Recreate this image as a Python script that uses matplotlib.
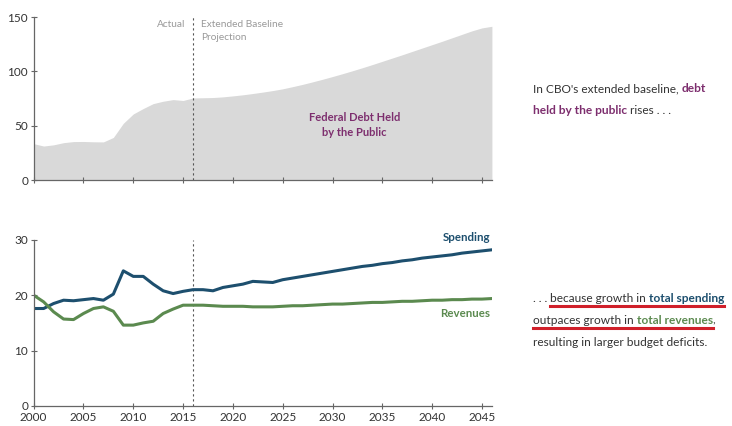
import matplotlib.pyplot as plt
from matplotlib.lines import Line2D

plt.rcParams['font.family'] = ['Lato', 'DejaVu Sans']

# 数据
years = list(range(2000, 2047))
debt = [33.6, 31.4, 32.5, 34.5, 35.5, 35.6, 35.3, 35.2, 39.3, 52.3,
        60.9, 65.9, 70.4, 72.6, 74.1, 73.3, 75.6, 75.8, 76.0, 76.6,
        77.5, 78.5, 79.7, 81.0, 82.4, 84.0, 86.0, 88.1, 90.4, 92.8,
        95.3, 97.9, 100.6, 103.4, 106.3, 109.3, 112.3, 115.3, 118.4, 121.5,
        124.6, 127.7, 130.9, 134.1, 137.3, 140.0, 141.5]
spending = [17.6, 17.6, 18.5, 19.1, 19.0, 19.2, 19.4, 19.1, 20.2, 24.4,
            23.4, 23.4, 22.0, 20.8, 20.3, 20.7, 21.0, 21.0, 20.8, 21.4,
            21.7, 22.0, 22.5, 22.4, 22.3, 22.8, 23.1, 23.4, 23.7, 24.0,
            24.3, 24.6, 24.9, 25.2, 25.4, 25.7, 25.9, 26.2, 26.4, 26.7,
            26.9, 27.1, 27.3, 27.6, 27.8, 28.0, 28.2]
revenues = [20.0, 18.8, 17.0, 15.7, 15.6, 16.7, 17.6, 17.9, 17.1, 14.6,
            14.6, 15.0, 15.3, 16.7, 17.5, 18.2, 18.2, 18.2, 18.1, 18.0,
            18.0, 18.0, 17.9, 17.9, 17.9, 18.0, 18.1, 18.1, 18.2, 18.3,
            18.4, 18.4, 18.5, 18.6, 18.7, 18.7, 18.8, 18.9, 18.9, 19.0,
            19.1, 19.1, 19.2, 19.2, 19.3, 19.3, 19.4]
xticks = list(range(2000, 2050, 5))
split_year = 2016

c_spend = '#1d4f6e'
c_rev = '#5b8a4f'
c_debt = '#7d2e6e'
c_axis = '#666666'
c_tick = '#333333'

fig = plt.figure(figsize=(7.32, 4.26), dpi=100)
ax1 = fig.add_axes([0.046, 0.577, 0.626, 0.383])
ax2 = fig.add_axes([0.046, 0.047, 0.626, 0.390])

for ax in (ax1, ax2):
    ax.set_xlim(2000, 2046)
    ax.set_xticks(xticks)
    for s in ('top', 'right'):
        ax.spines[s].set_visible(False)
    for s in ('left', 'bottom'):
        ax.spines[s].set_color(c_axis)
        ax.spines[s].set_linewidth(0.9)
    ax.tick_params(direction='inout', length=4, width=0.8, color=c_axis,
                   labelsize=8.5, labelcolor=c_tick, pad=2)
    ax.axvline(split_year, color='#555555', lw=0.8, ls=(0, (2, 2.5)))

# 上图：债务
ax1.fill_between(years, debt, 0, color='#d9d9d9', lw=0)
ax1.set_ylim(0, 150)
ax1.set_yticks([0, 50, 100, 150])
ax1.tick_params(axis='x', labelbottom=False)
ax1.text(2015.2, 147, 'Actual', ha='right', va='top', fontsize=7.3, color='#999999')
ax1.text(2016.8, 147, 'Extended Baseline\nProjection', ha='left', va='top',
         fontsize=7.3, color='#999999', linespacing=1.5)
ax1.text(2032.2, 51, 'Federal Debt Held\nby the Public', ha='center', va='center',
         fontsize=8, color=c_debt, fontweight='bold', linespacing=1.4)

# 下图：支出与收入
ax2.plot(years, spending, color=c_spend, lw=2.2)
ax2.plot(years, revenues, color=c_rev, lw=2.2)
ax2.set_ylim(0, 30)
ax2.set_yticks([0, 10, 20, 30])
ax2.text(2045.8, 30.4, 'Spending', ha='right', va='center', fontsize=8.3,
         color=c_spend, fontweight='bold')
ax2.text(2045.8, 16.7, 'Revenues', ha='right', va='center', fontsize=8.3,
         color=c_rev, fontweight='bold')


# 右侧说明文字（分段着色）
def rich_line(x, y, parts, size=8.6):
    pieces = []
    prev = None
    for txt, col, bold in parts:
        kw = dict(fontsize=size, color=col, fontweight='bold' if bold else 'normal')
        if prev is None:
            t = fig.text(x, y, txt, ha='left', va='bottom', **kw)
        else:
            t = fig.text(0, 0, txt, ha='left', va='bottom', **kw)
            t.remove()
            t = plt.annotate(txt, xy=(1, 0), xycoords=prev, ha='left', va='bottom',
                             annotation_clip=False, **kw)
        pieces.append(t)
        prev = t
    return pieces


dark = '#333333'
tx = 0.728
rich_line(tx, 0.779, [("In CBO's extended baseline, ", dark, False), ('debt', c_debt, True)])
rich_line(tx, 0.728, [('held by the public', c_debt, True), (' rises . . .', dark, False)])

l1 = rich_line(tx, 0.286, [('. . . ', dark, False), ('because growth in ', dark, False),
                           ('total spending', c_spend, True)])
l2 = rich_line(tx, 0.235, [('outpaces growth in ', dark, False),
                           ('total revenues', c_rev, True), (',', dark, False)])
rich_line(tx, 0.183, [('resulting in larger budget deficits.', dark, False)])

# 红色下划线
fig.canvas.draw()
r = fig.canvas.get_renderer()
W, H = fig.bbox.width, fig.bbox.height


def underline(t_start, t_end):
    e1 = t_start.get_window_extent(r)
    e2 = t_end.get_window_extent(r)
    y = e1.y0 - 2
    fig.add_artist(Line2D([e1.x0 / W, e2.x1 / W], [y / H, y / H], color='#d0202a',
                          lw=2.2, transform=fig.transFigure))


underline(l1[1], l1[2])
underline(l2[0], l2[1])

plt.savefig('out.png', dpi=100)
